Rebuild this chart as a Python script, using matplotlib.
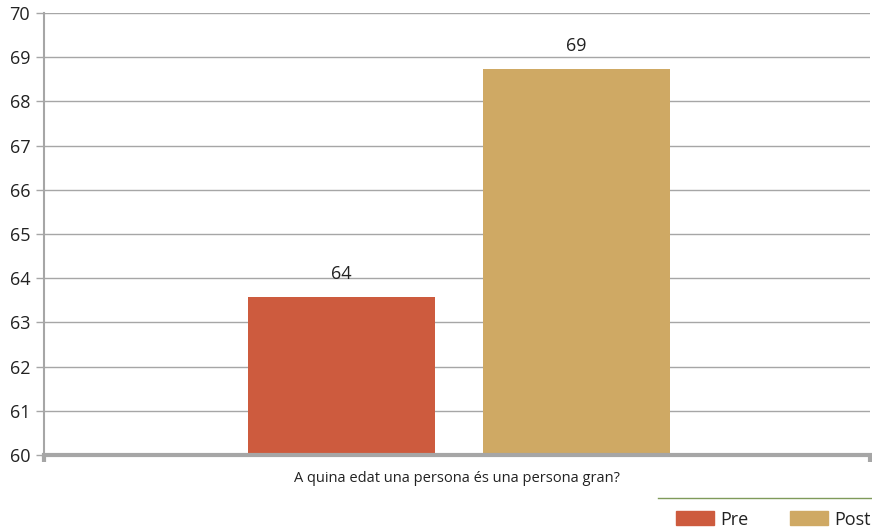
import matplotlib.pyplot as plt
from matplotlib.patches import Patch
from matplotlib.lines import Line2D

series = ['Pre', 'Post']
values = [63.57, 68.74]
value_labels = ['64', '69']
category = 'A quina edat una persona és una persona gran?'
colors = ['#cd5b3e', '#cfa964']

plt.rcParams['font.family'] = ['Open Sans', 'DejaVu Sans']

fig = plt.figure(figsize=(8.72, 5.32), dpi=100)
ax = fig.add_axes([0.0505, 0.1447, 0.9472, 0.8309])

width = 0.2264
offsets = [-0.1398, 0.1446]
for off, v, lab, c in zip(offsets, values, value_labels, colors):
    ax.bar(off, v - 60, bottom=60, width=width, color=c, zorder=3)
    ax.text(off, v + 0.32, lab, ha='center', va='bottom', fontsize=13, color='#222222')

ax.set_xlim(-0.5, 0.5)
ax.set_ylim(60, 70)
ax.set_yticks(range(60, 71))
ax.yaxis.grid(True, color='#a6a6a6', linewidth=1, zorder=0)
ax.set_xticks([-0.5, 0.5])
ax.set_xticklabels(['', ''])

for s in ['top', 'right']:
    ax.spines[s].set_visible(False)
ax.spines['left'].set_color('#a6a6a6')
ax.spines['left'].set_linewidth(1.5)
ax.spines['bottom'].set_color('#a6a6a6')
ax.spines['bottom'].set_linewidth(3)
ax.spines['bottom'].set_zorder(4)
ax.tick_params(axis='y', direction='out', length=6, width=1, color='#a6a6a6',
               labelsize=13, labelcolor='#222222', pad=4)
ax.tick_params(axis='x', direction='out', length=5, width=3, color='#a6a6a6')

ax.text(0, -0.053, category, transform=ax.get_xaxis_transform(), ha='center', va='center',
        fontsize=10.5, color='#222222')

fig.add_artist(Line2D([658 / 872, 1.0], [1 - 498 / 532, 1 - 498 / 532],
                      color='#7f9a5a', linewidth=1))

handles = [Patch(color=c) for c in colors]
fig.legend(handles, series, loc='lower right', bbox_to_anchor=(1.017, -0.024), ncol=2,
           frameon=False, fontsize=13, handlelength=2.1, handleheight=0.8,
           columnspacing=2.3, handletextpad=0.35, labelcolor='#222222')

fig.savefig('out.png', dpi=100)
